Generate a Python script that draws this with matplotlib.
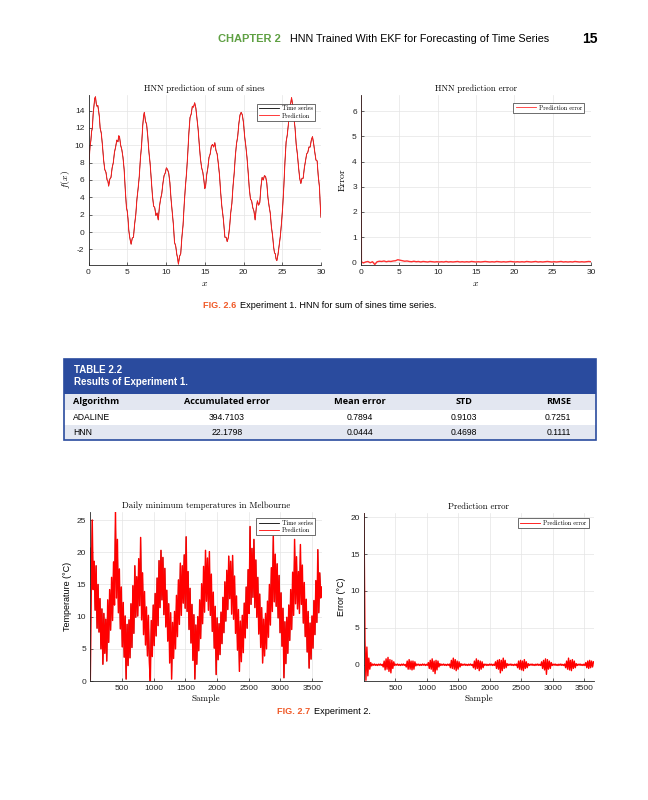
import matplotlib
matplotlib.use('Agg')
import matplotlib.pyplot as plt
from matplotlib.patches import Rectangle
import numpy as np

plt.rcParams['font.family'] = ['Liberation Sans', 'DejaVu Sans']
plt.rcParams['mathtext.fontset'] = 'cm'
plt.rcParams['axes.unicode_minus'] = False

# --- Experiment 1: sum of sines ---
sines_x = [0, 0.05, 0.1, 0.2, 0.3, 0.4, 0.5, 0.6, 0.7, 0.8,
           0.9, 1.0, 1.1, 1.2, 1.3, 1.4, 1.5, 1.65, 1.8, 1.95,
           2.1, 2.25, 2.4, 2.5, 2.6, 2.75, 2.9, 3.05, 3.2, 3.35,
           3.5, 3.65, 3.8, 3.9, 4.0, 4.15, 4.3, 4.45, 4.6, 4.75,
           4.9, 5.0, 5.1, 5.2, 5.3, 5.4, 5.5, 5.65, 5.8, 5.95,
           6.1, 6.25, 6.4, 6.55, 6.7, 6.85, 7.0, 7.1, 7.2, 7.35,
           7.5, 7.65, 7.8, 7.95, 8.1, 8.25, 8.4, 8.55, 8.7, 8.85,
           9.0, 9.15, 9.3, 9.45, 9.6, 9.75, 9.9, 10.05, 10.2, 10.35,
           10.5, 10.65, 10.8, 10.95, 11.1, 11.25, 11.4, 11.5, 11.6, 11.75,
           11.9, 12.05, 12.2, 12.35, 12.5, 12.65, 12.8, 12.95, 13.1, 13.25,
           13.4, 13.55, 13.7, 13.85, 14.0, 14.15, 14.3, 14.45, 14.6, 14.75,
           14.9, 15.0, 15.1, 15.25, 15.4, 15.55, 15.7, 15.85, 16.0, 16.15,
           16.3, 16.45, 16.6, 16.75, 16.9, 17.05, 17.2, 17.4, 17.6, 17.75,
           17.9, 18.05, 18.2, 18.35, 18.5, 18.65, 18.8, 18.95, 19.1, 19.25,
           19.4, 19.55, 19.7, 19.85, 20.0, 20.15, 20.3, 20.45, 20.6, 20.75,
           20.9, 21.05, 21.2, 21.35, 21.5, 21.65, 21.8, 21.95, 22.1, 22.25,
           22.4, 22.55, 22.7, 22.85, 23.0, 23.15, 23.3, 23.45, 23.6, 23.75,
           23.9, 24.0, 24.1, 24.2, 24.3, 24.45, 24.6, 24.75, 24.9, 25.05,
           25.2, 25.35, 25.5, 25.65, 25.8, 25.9, 26.0, 26.1, 26.2, 26.35,
           26.5, 26.65, 26.8, 26.95, 27.1, 27.25, 27.4, 27.55, 27.7, 27.85,
           28.0, 28.15, 28.3, 28.45, 28.6, 28.75, 28.9, 29.05, 29.2, 29.35,
           29.5, 29.65, 29.8, 29.9, 30.0]
sines_series = [7.0, 7.9, 8.5, 9.9, 10.5, 11.6, 12.0, 13.6, 14.5, 15.4,
                15.6, 14.8, 14.5, 14.6, 14.0, 13.3, 12.0, 11.4, 10.0, 8.3,
                7.2, 6.9, 6.0, 5.9, 5.3, 6.1, 6.3, 7.4, 8.0, 9.2,
                9.8, 10.6, 10.4, 11.1, 11.0, 10.0, 9.5, 8.6, 7.2, 4.8,
                2.8, 2.4, 1.5, 0.2, -0.5, -1.0, -1.4, -0.7, -0.6, 0.9,
                2.0, 3.8, 5.0, 6.4, 8.5, 10.0, 12.3, 13.3, 13.8, 12.8,
                12.4, 11.0, 9.2, 7.9, 6.0, 4.2, 3.0, 2.8, 1.9, 2.2,
                1.4, 2.9, 3.8, 4.4, 5.6, 6.5, 6.8, 7.4, 7.2, 6.8,
                5.7, 3.8, 2.4, 0.9, -1.2, -1.6, -2.6, -3.0, -3.7, -2.8,
                -2.5, -0.6, 0.8, 3.2, 5.2, 6.8, 8.9, 11.4, 13.2, 13.6,
                14.5, 14.4, 14.9, 14.3, 13.1, 11.8, 10.0, 8.4, 7.4, 6.9,
                5.9, 5.0, 5.2, 6.6, 7.4, 8.6, 9.0, 9.9, 10.1, 9.8,
                10.3, 9.4, 9.0, 7.9, 6.6, 4.6, 3.0, 1.5, -0.6, -0.6,
                -1.1, -0.6, 0.5, 2.2, 3.3, 5.3, 6.8, 8.8, 10.2, 11.0,
                12.5, 13.5, 13.8, 13.5, 12.6, 11.0, 9.9, 8.6, 6.9, 5.0,
                3.8, 3.6, 2.8, 2.4, 1.4, 2.8, 3.6, 3.1, 3.4, 5.2,
                6.3, 6.0, 6.5, 6.4, 5.7, 4.0, 3.0, 2.2, 0.6, -0.4,
                -1.8, -2.4, -2.5, -3.1, -3.3, -2.6, -1.5, -0.5, 1.0, 2.8,
                5.2, 8.1, 10.4, 11.2, 12.5, 13.9, 14.6, 14.9, 15.5, 14.6,
                13.2, 12.0, 10.1, 9.0, 7.5, 6.2, 5.6, 6.2, 6.2, 7.4,
                8.2, 9.0, 9.2, 9.8, 9.8, 10.6, 11.0, 10.2, 9.2, 8.3,
                8.2, 6.4, 5.2, 3.2, 1.7]
sines_prediction_start = 0.4
sines_error_x = [0, 0.05] + list(np.arange(0.3, 30.01, 0.3))
sines_error = [6.6, 0.02,
               -0.03, 0.01, 0.03, -0.02, 0.02, -0.09, 0.02, 0.04, 0.03, 0.05,
               0.02, 0.04, 0.03, 0.05, 0.06, 0.10, 0.08, 0.06, 0.04, 0.05,
               0.03, 0.02, 0.04, 0.02, 0.03, 0.01, 0.03, 0.02, 0.01, 0.03,
               0.02, 0.01, 0.02, 0.01, 0.02, 0.01, 0.03, 0.01, 0.02, 0.01,
               0.02, 0.03, 0.01, 0.02, 0.01, 0.02, 0.01, 0.03, 0.02, 0.01,
               0.02, 0.01, 0.02, 0.03, 0.02, 0.01, 0.02, 0.01, 0.03, 0.02,
               0.01, 0.02, 0.01, 0.02, 0.03, 0.02, 0.01, 0.02, 0.01, 0.02,
               0.01, 0.03, 0.02, 0.01, 0.02, 0.03, 0.01, 0.02, 0.01, 0.02,
               0.03, 0.02, 0.01, 0.02, 0.01, 0.02, 0.03, 0.01, 0.02, 0.01,
               0.02, 0.01, 0.03, 0.02, 0.01, 0.02, 0.01, 0.02, 0.03, 0.02]

# --- Table 2.2 ---
table_columns = ['Algorithm', 'Accumulated error', 'Mean error', 'STD', 'RMSE']
table_algorithms = ['ADALINE', 'HNN']
table_accumulated = ['394.7103', '22.1798']
table_mean = ['0.7894', '0.0444']
table_std = ['0.9103', '0.4698']
table_rmse = ['0.7251', '0.1111']

# --- Experiment 2: daily minimum temperatures in Melbourne (every ~15 days) ---
min_temperature = [
    20.7, 13.5, 25.0, 14.2, 18.6, 11.0, 17.9, 8.2, 15.0, 7.6, 12.8, 5.0,
    11.2, 2.6, 10.5, 4.3, 9.6, 3.1, 12.6, 6.0, 14.2, 7.9, 16.1, 9.4,
    18.5, 11.8, 26.3, 12.9, 22.0, 10.6, 17.4, 8.1, 14.6, 5.3, 12.2, 3.7,
    10.1, 0.3, 8.8, 2.4, 9.5, 3.6, 12.0, 5.2, 14.8, 7.4, 17.9, 9.9,
    16.2, 10.1, 19.0, 11.7, 22.3, 9.5, 16.8, 7.2, 13.9, 5.6, 11.5, 3.9,
    10.2, 2.9, 0.0, 9.4, 3.8, 11.8, 5.5, 13.6, 7.0, 16.0, 8.6, 18.7,
    11.4, 20.3, 12.6, 19.2, 10.3, 17.5, 8.4, 14.1, 6.2, 12.0, 2.8, 10.6,
    0.3, 9.1, 3.5, 10.8, 5.0, 13.3, 6.9, 15.7, 8.8, 18.3, 10.2, 17.9,
    12.1, 19.6, 11.3, 22.4, 10.8, 17.0, 8.0, 14.4, 5.9, 11.9, 3.2, 10.3,
    0.3, 8.7, 2.6, 10.0, 4.7, 12.6, 6.6, 15.1, 8.9, 17.8, 10.7, 20.3,
    12.4, 19.1, 11.0, 20.1, 10.2, 16.6, 7.7, 13.8, 5.1, 11.6, 1.0, 9.8,
    3.3, 8.9, 4.1, 10.7, 5.8, 13.0, 7.5, 15.4, 9.3, 17.2, 11.1, 19.4,
    12.8, 18.6, 10.4, 19.5, 9.6, 16.3, 7.4, 13.2, 4.8, 11.1, 1.5, 9.3,
    3.0, 10.2, 4.4, 12.1, 6.7, 14.6, 8.2, 17.3, 10.5, 24.0, 11.9, 20.6,
    13.0, 22.0, 11.4, 18.8, 9.9, 16.1, 7.3, 13.5, 5.2, 11.4, 2.8, 9.6,
    3.9, 10.5, 5.0, 12.4, 6.8, 15.0, 8.7, 17.6, 10.8, 22.5, 12.3, 19.7,
    11.6, 18.2, 9.8, 16.4, 7.5, 13.7, 5.4, 11.3, 0.5, 9.2, 2.7, 9.9,
    4.3, 11.8, 6.3, 14.2, 8.0, 16.9, 10.2, 22.0, 12.0, 19.3, 11.2, 17.0,
    10.5, 21.2, 11.9, 18.0, 9.0, 15.3, 6.9, 12.7, 4.5, 10.8, 2.0, 9.0,
    3.4, 10.1, 5.1, 12.5, 7.2, 15.6, 9.1, 20.4, 10.6, 16.8, 12.9, 14.6]
temperature_prediction_start = 0.2
temperature_error = [
    20.5, 3.4, -2.1, 2.4, -1.5, 0.9, -0.6, 0.3, -0.15, 0.1,
    -0.06, 0.1, -0.08, 0.05, -0.1, 0.08, -0.05, 0.1, -0.08, 0.06,
    -0.3, 0.5, -0.7, 0.8, -0.6, 1.0, -0.9, 0.7, -1.1, 0.6,
    -0.5, 0.4, -0.1, 0.08, -0.05, 0.1, -0.08, 0.05, -0.1, 0.08,
    -0.06, 0.1, -0.08, 0.05, -0.3, 0.5, -0.6, 0.7, -0.6, 0.5,
    -0.7, 0.5, -0.6, 0.4, -0.15, 0.1, -0.05, 0.08, -0.1, 0.05,
    -0.08, 0.1, -0.05, 0.08, -0.1, 0.06, -0.08, 0.3, -0.5, 0.6,
    -0.6, 0.8, -0.9, 0.5, -1.2, 0.6, -0.7, 0.5, -0.3, 0.15,
    -0.1, 0.08, -0.05, 0.1, -0.08, 0.05, -0.1, 0.08, -0.06, 0.1,
    -0.4, 0.6, -0.5, 0.9, -0.6, 0.7, -0.8, 0.5, -0.6, 0.4,
    -0.3, 0.15, -0.1, 0.08, -0.05, 0.1, -0.08, 0.05, -0.1, 0.08,
    -0.06, 0.1, -0.08, 0.05, -0.4, 0.5, -0.6, 0.8, -0.5, 0.6,
    -0.8, 0.5, -0.6, 0.4, -0.4, 0.1, -0.05, 0.08, -0.1, 0.05,
    -0.08, 0.1, -0.05, 0.08, -0.1, 0.06, -0.08, 0.4, -0.5, 0.6,
    -0.6, 0.7, -1.1, 0.6, -0.8, 0.9, -0.5, 0.6, -0.4, 0.15,
    -0.1, 0.08, -0.05, 0.1, -0.08, 0.05, -0.1, 0.08, -0.06, 0.1,
    -0.4, 0.5, -0.6, 0.6, -0.7, 0.5, -0.8, 0.7, -0.5, 0.4,
    -0.4, 0.15, -0.1, 0.08, -0.05, 0.1, -0.08, 0.05, -0.1, 0.08,
    -0.06, 0.1, -0.08, 0.05, -0.1, 0.4, -0.5, 0.6, -0.7, 0.8,
    -1.3, 0.7, -0.6, 0.5, -0.5, 0.3, -0.1, 0.08, -0.05, 0.1,
    -0.08, 0.05, -0.1, 0.08, -0.06, 0.1, -0.08, 0.05, -0.1, 0.1,
    -0.4, 0.5, -0.6, 0.9, -0.7, 0.6, -0.8, 0.7, -0.5, 0.5,
    -0.4, 0.15, -0.1, 0.08, -0.05, 0.1, -0.08, 0.05, -0.1, 0.08,
    -0.1, 0.3, -0.4, 0.5, -0.5, 0.6, -0.4, 0.5, -0.3, 0.4]

W, H = 648, 800
GREEN = '#5fa043'
ORANGE = '#f05a28'
BLUE = '#2a4b9e'
LIGHT = '#e3e7f1'
SERIF = 'cmr10'
TICK = '#262626'


def fx(x):
    return x / W


def fy(y):
    return 1 - y / H


def add_axes(left, top, right, bottom):
    ax = fig.add_axes([fx(left), fy(bottom), (right - left) / W, (bottom - top) / H])
    ax.grid(True, color='#e4e4e4', lw=0.5)
    ax.set_axisbelow(True)
    for side in ('top', 'right'):
        ax.spines[side].set_visible(False)
    for side in ('left', 'bottom'):
        ax.spines[side].set_color(TICK)
        ax.spines[side].set_linewidth(0.6)
    ax.tick_params(labelsize=6, length=2, width=0.5, direction='in', colors=TICK, pad=3)
    return ax


def add_legend(ax, anchor):
    leg = ax.legend(loc='upper right', bbox_to_anchor=anchor, borderaxespad=0,
                    prop={'family': SERIF, 'size': 4.5}, fancybox=False,
                    edgecolor='#333333', framealpha=1, handlelength=3.2,
                    borderpad=0.35, labelspacing=0.2, handletextpad=0.5)
    leg.get_frame().set_linewidth(0.5)
    for line in leg.get_lines():
        line.set_linewidth(0.6)


fig = plt.figure(figsize=(W / 100, H / 100), dpi=100)

# page header
fig.text(fx(218), fy(39), 'CHAPTER 2', color=GREEN, fontsize=8, weight='bold', va='center')
fig.text(fx(290), fy(39), 'HNN Trained With EKF for Forecasting of Time Series', fontsize=7.75, va='center')
fig.text(fx(598), fy(39), '15', fontsize=10, weight='bold', va='center', ha='right')

# chart 1: HNN prediction of sum of sines
ax1 = add_axes(88.5, 95, 321, 265)
sines_prediction = [sines_prediction_start] + sines_series[1:]
ax1.plot(sines_x, sines_series, color='black', lw=0.4, label='Time series')
ax1.plot(sines_x, sines_prediction, color='#ff1a1a', lw=0.7, label='Prediction')
ax1.set_xlim(0, 30)
ax1.set_ylim(-3.8, 15.8)
ax1.set_xticks(np.arange(0, 31, 5))
ax1.set_yticks(np.arange(-2, 15, 2))
ax1.set_title('HNN prediction of sum of sines', family=SERIF, fontsize=6.3, pad=3)
ax1.set_xlabel('$x$', fontsize=7, labelpad=1)
ax1.set_ylabel('$f(x)$', fontsize=7, labelpad=2)
add_legend(ax1, (0.975, 0.95))

# chart 2: HNN prediction error
ax2 = add_axes(361, 95, 591, 265)
ax2.plot(sines_error_x, sines_error, color='#ff3030', lw=1.0, label='Prediction error')
ax2.set_xlim(0, 30)
ax2.set_ylim(-0.11, 6.65)
ax2.set_xticks(np.arange(0, 31, 5))
ax2.set_yticks(np.arange(0, 7, 1))
ax2.set_title('HNN prediction error', family=SERIF, fontsize=6.3, pad=3)
ax2.set_xlabel('$x$', fontsize=7, labelpad=1)
ax2.set_ylabel('Error', family=SERIF, fontsize=7, labelpad=4)
add_legend(ax2, (0.97, 0.955))

# caption fig 2.6
cap = fig.text(fx(203), fy(305), 'FIG. 2.6', color=ORANGE, fontsize=6.6, weight='bold', va='center')
ax2.annotate('Experiment 1. HNN for sum of sines time series.', xy=(1, 0.5), xycoords=cap,
             xytext=(3, 0), textcoords='offset points', va='center', fontsize=6.6)

# table 2.2
tab_left, tab_right = 64, 596
rows_y = [359, 394, 410, 425, 440]


def band(top, bottom, face, edge='none', lw=0):
    fig.patches.append(Rectangle((fx(tab_left), fy(bottom)), (tab_right - tab_left) / W,
                                 (bottom - top) / H, transform=fig.transFigure,
                                 facecolor=face, edgecolor=edge, lw=lw))


band(rows_y[0], rows_y[1], BLUE)
band(rows_y[1], rows_y[2], LIGHT)
band(rows_y[3], rows_y[4], LIGHT)
band(rows_y[0], rows_y[4], 'none', BLUE, 1.2)
fig.text(fx(74), fy(370), 'TABLE 2.2', color='white', fontsize=7, weight='bold', va='center')
fig.text(fx(74), fy(382), 'Results of Experiment 1.', color='white', fontsize=7, weight='bold', va='center')

col_x = [73, 227, 360, 464, 571]
col_ha = ['left', 'center', 'center', 'center', 'right']
header_y = (rows_y[1] + rows_y[2]) / 2
for name, x, ha in zip(table_columns, col_x, col_ha):
    fig.text(fx(x), fy(header_y), name, fontsize=6.6, weight='bold', ha=ha, va='center',
             family=['Open Sans', 'Liberation Sans'])
table_rows = list(zip(table_algorithms, table_accumulated, table_mean, table_std, table_rmse))
for i, row in enumerate(table_rows):
    y = (rows_y[2 + i] + rows_y[3 + i]) / 2
    for cell, x, ha in zip(row, col_x, col_ha):
        fig.text(fx(x), fy(y), cell, fontsize=6.2, ha=ha, va='center')

# chart 3: daily minimum temperatures in Melbourne
samples = np.linspace(1, 3650, len(min_temperature))
temperature_prediction = [temperature_prediction_start] + min_temperature[1:]
ax3 = add_axes(90.3, 511.7, 321.7, 681)
ax3.plot(samples, min_temperature, color='black', lw=0.5, label='Time series')
ax3.plot(samples, temperature_prediction, color='#ff0000', lw=1.05, label='Prediction')
ax3.set_xlim(1, 3650)
ax3.set_ylim(0, 26.3)
ax3.set_xticks(np.arange(500, 3501, 500))
ax3.set_yticks(np.arange(0, 26, 5))
ax3.set_title('Daily minimum temperatures in Melbourne', family=SERIF, fontsize=6.3, pad=3)
ax3.set_xlabel('Sample', family=SERIF, fontsize=6.5, labelpad=2)
ax3.set_ylabel('Temperature (°C)', fontsize=6.5, labelpad=3)
add_legend(ax3, (0.971, 0.963))

# chart 4: prediction error
ax4 = add_axes(364, 512.7, 593.5, 681)
ax4.plot(samples, temperature_error, color='#ff0000', lw=1.0, label='Prediction error')
ax4.set_xlim(1, 3650)
ax4.set_ylim(-2.2, 20.6)
ax4.set_xticks(np.arange(500, 3501, 500))
ax4.set_yticks(np.arange(0, 21, 5))
ax4.set_title('Prediction error', family=SERIF, fontsize=6.3, pad=3)
ax4.set_xlabel('Sample', family=SERIF, fontsize=6.5, labelpad=2)
ax4.set_ylabel('Error (°C)', fontsize=6.5, labelpad=3)
add_legend(ax4, (0.98, 0.969))

# caption fig 2.7
cap2 = fig.text(fx(277), fy(711), 'FIG. 2.7', color=ORANGE, fontsize=6.6, weight='bold', va='center')
ax4.annotate('Experiment 2.', xy=(1, 0.5), xycoords=cap2, xytext=(3, 0),
             textcoords='offset points', va='center', fontsize=6.6)

fig.savefig('out.png', dpi=100)
